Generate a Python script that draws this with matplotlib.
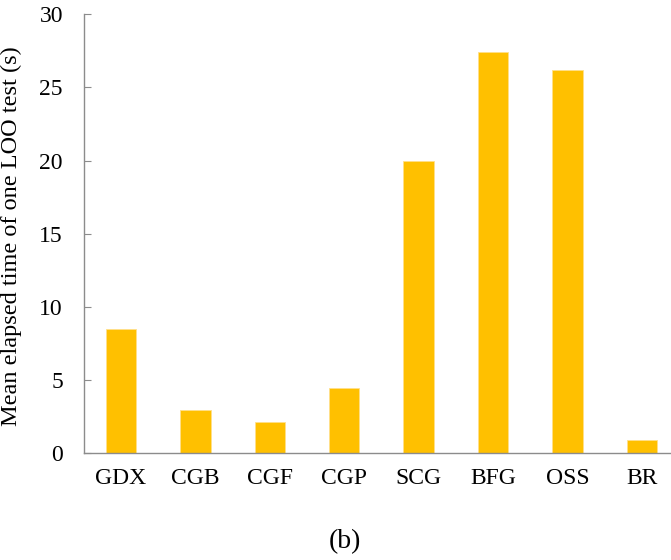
import matplotlib
matplotlib.use('Agg')
import matplotlib.pyplot as plt
import numpy as np

methods = ['GDX', 'CGB', 'CGF', 'CGP', 'SCG', 'BFG', 'OSS', 'BR']
mean_time = [8.45, 2.94, 2.14, 4.46, 19.96, 27.39, 26.2, 0.87]

plt.rcParams['font.family'] = ['Liberation Serif', 'DejaVu Serif']

fig = plt.figure(figsize=(6.71, 5.6), dpi=100)
ax = fig.add_axes([0.1249, 0.191, 0.887, 0.7835])

x = np.arange(len(methods))
ax.bar(x, mean_time, width=0.41, color='#FFC000', edgecolor='#FFE08A', linewidth=0.6)

ax.set_xlim(-0.5, len(methods) - 0.5)
ax.set_ylim(0, 30)
ax.set_yticks(np.arange(0, 31, 5))
ax.set_xticks(x)
ax.set_xticklabels(methods)

for side in ['top', 'right']:
    ax.spines[side].set_visible(False)
for side in ['left', 'bottom']:
    ax.spines[side].set_color('#8c8c8c')
    ax.spines[side].set_linewidth(1.0)

ax.tick_params(axis='y', direction='in', length=5, color='#8c8c8c', pad=15, labelsize=17)
ax.tick_params(axis='x', length=0, pad=11, labelsize=17)

ax.set_ylabel('Mean elapsed time of one LOO test (s)', fontsize=17.5)
ax.yaxis.set_label_coords(-0.104, 0.495)

fig.text(0.514, 0.033, '(b)', fontsize=20, ha='center', va='center')

fig.savefig('out.png', dpi=100)
